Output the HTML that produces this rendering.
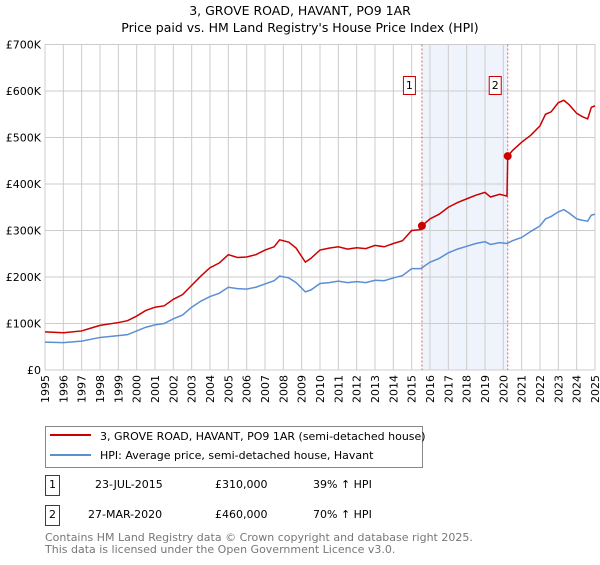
<!DOCTYPE html>
<html><head><meta charset="utf-8"><style>
body{margin:0;background:#fff;font-family:"Liberation Sans","DejaVu Sans",sans-serif;}
svg text{font-family:"DejaVu Sans","Liberation Sans",sans-serif;}
</style></head><body>
<svg id="c" width="600" height="560" xmlns="http://www.w3.org/2000/svg">
<text x="300" y="15" text-anchor="middle" font-size="12.5">3, GROVE ROAD, HAVANT, PO9 1AR</text>
<text x="300" y="32" text-anchor="middle" font-size="12.5">Price paid vs. HM Land Registry's House Price Index (HPI)</text>
<g id="plot"></g>
<g>
<rect x="45.5" y="426.5" width="377" height="41" fill="#fff" stroke="#888"/>
<line x1="50" y1="435" x2="91" y2="435" stroke="#cc0000" stroke-width="2"/>
<text x="100" y="440" font-size="11">3, GROVE ROAD, HAVANT, PO9 1AR (semi-detached house)</text>
<line x1="50" y1="455" x2="91" y2="455" stroke="#5b8fd4" stroke-width="2"/>
<text x="100" y="459" font-size="11">HPI: Average price, semi-detached house, Havant</text>
</g>
<g font-size="11">
<rect x="45.5" y="475.5" width="14" height="20" fill="none" stroke="#cc0000"/>
<text x="52.5" y="488" text-anchor="middle">1</text>
<text x="95" y="488">23-JUL-2015</text><text x="215" y="488">£310,000</text><text x="313" y="488">39% ↑ HPI</text>
<rect x="45.5" y="505.5" width="14" height="20" fill="none" stroke="#cc0000"/>
<text x="52.5" y="518" text-anchor="middle">2</text>
<text x="88" y="518">27-MAR-2020</text><text x="215" y="518">£460,000</text><text x="313" y="518">70% ↑ HPI</text>
</g>
<text x="45" y="541" font-size="11" fill="#777">Contains HM Land Registry data © Crown copyright and database right 2025.</text>
<text x="45" y="553" font-size="11" fill="#777">This data is licensed under the Open Government Licence v3.0.</text>
</svg>
<script>
const hpiYears=[1995,1996,1997,1997.5,1998,1999,1999.5,2000,2000.5,2001,2001.5,2002,2002.5,2003,2003.5,2004,2004.5,2005,2005.5,2006,2006.5,2007,2007.5,2007.8,2008.3,2008.7,2009.2,2009.5,2010,2010.5,2011,2011.5,2012,2012.5,2013,2013.5,2014,2014.5,2015,2015.5,2016,2016.5,2017,2017.5,2018,2018.5,2019,2019.3,2019.8,2020.2,2020.5,2021,2021.5,2022,2022.3,2022.6,2023,2023.3,2023.6,2024,2024.3,2024.6,2024.8,2025];
const hpiValues=[60,59,62,66,70,74,76,84,92,97,100,110,118,135,148,158,165,178,175,174,178,185,192,202,198,188,168,172,186,188,191,188,190,188,193,192,198,203,218,218,232,240,252,260,266,272,276,270,274,272,278,285,298,310,325,330,340,345,337,325,322,320,333,335];
const priceYears=[1995,1996,1997,1997.5,1998,1999,1999.5,2000,2000.5,2001,2001.5,2002,2002.5,2003,2003.5,2004,2004.5,2005,2005.5,2006,2006.5,2007,2007.5,2007.8,2008.3,2008.7,2009.2,2009.5,2010,2010.5,2011,2011.5,2012,2012.5,2013,2013.5,2014,2014.5,2015,2015.5,2015.56,2016,2016.5,2017,2017.5,2018,2018.5,2019,2019.3,2019.8,2020.2,2020.24,2020.5,2021,2021.5,2022,2022.3,2022.6,2023,2023.3,2023.6,2024,2024.3,2024.6,2024.8,2025];
const priceValues=[82,80,84,90,96,102,106,116,128,135,138,152,162,182,202,220,230,248,242,243,248,258,265,280,275,262,232,240,258,262,265,260,263,261,268,265,272,278,300,302,310,325,335,350,360,368,376,382,372,378,374,460,472,490,505,525,550,555,575,580,570,552,545,540,565,568];
const saleYears=[2015.56,2020.24];
const saleValues=[310,460];
const saleLabels=["1","2"];
const yTicks=[0,100,200,300,400,500,600,700];
const yTickLabels=["£0","£100K","£200K","£300K","£400K","£500K","£600K","£700K"];
const xTicks=[1995,1996,1997,1998,1999,2000,2001,2002,2003,2004,2005,2006,2007,2008,2009,2010,2011,2012,2013,2014,2015,2016,2017,2018,2019,2020,2021,2022,2023,2024,2025];

const L=45,R=595,T=44.5,B=370;
const x=v=>L+(v-1995)/30*(R-L);
const y=v=>B-v/700*(B-T);
const NS="http://www.w3.org/2000/svg";
const g=document.getElementById('plot');
function mk(t,a){const e=document.createElementNS(NS,t);for(const k in a)e.setAttribute(k,a[k]);g.appendChild(e);return e;}
let e=mk('rect',{x:x(saleYears[0]),y:T,width:x(saleYears[1])-x(saleYears[0]),height:B-T,fill:'#eef3fc'});


xTicks.forEach(t=>{const l=mk('line',{x1:x(t),x2:x(t),y1:T,y2:B,stroke:'#cccccc'});


const tx=mk('text',{x:0,y:0,'font-size':11,'text-anchor':'end',transform:`translate(${x(t)+4},${B+5}) rotate(-90)`});
tx.textContent=t;

});
yTicks.forEach((t,i)=>{const l=mk('line',{x1:L,x2:R,y1:y(t),y2:y(t),stroke:'#cccccc'});


const tx=mk('text',{x:L-4,y:y(t)+4,'font-size':11,'text-anchor':'end'});
tx.textContent=yTickLabels[i];

});
saleYears.forEach((s,i)=>{const l=mk('line',{x1:x(s),x2:x(s),y1:T,y2:B,stroke:'#e06060','stroke-dasharray':'2,2'});


const r=mk('rect',{x:x(s)-18.5,y:76.5,width:12,height:18,fill:'#fff',stroke:'#cc0000'});


const tx=mk('text',{x:x(s)-12.5,y:89,'font-size':11,'text-anchor':'middle'});tx.textContent=saleLabels[i];

});
let p=mk('polyline',{points:hpiYears.map((v,i)=>x(v)+','+y(hpiValues[i])).join(' '),fill:'none',stroke:'#5b8fd4','stroke-width':1.5});


p=mk('polyline',{points:priceYears.map((v,i)=>x(v)+','+y(priceValues[i])).join(' '),fill:'none',stroke:'#cc0000','stroke-width':1.5});


saleYears.forEach((s,i)=>{const c=mk('circle',{cx:x(s),cy:y(saleValues[i]),r:4,fill:'#cc0000'});

});
</script>
</body></html>
